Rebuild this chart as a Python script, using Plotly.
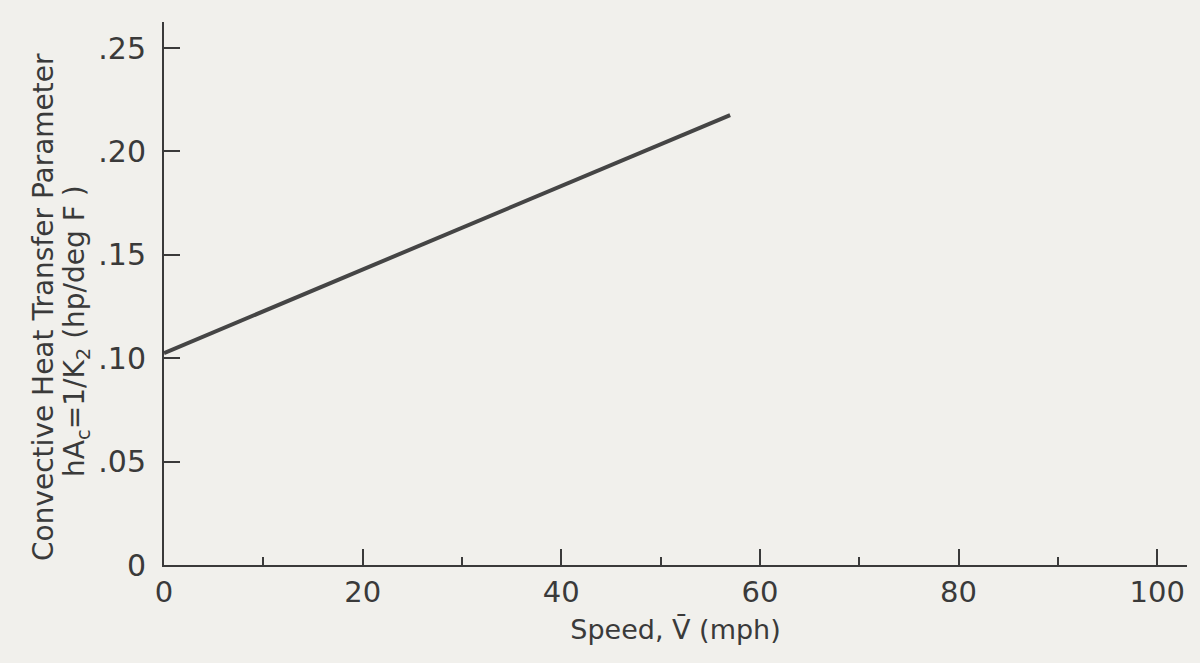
import plotly.graph_objects as go

speed = [0, 57]
param = [0.1025, 0.2176]

x_tickvals = [0, 20, 40, 60, 80, 100]
x_ticktext = ["0", "20", "40", "60", "80", "100"]
y_tickvals = [0, 0.05, 0.10, 0.15, 0.20, 0.25]
y_ticktext = ["0", ".05", ".10", ".15", ".20", ".25"]

y_title_1 = "Convective Heat Transfer Parameter"
y_title_2 = "hA<sub>c</sub>=1/K<sub>2</sub> (hp/deg F )"
x_title = "Speed, V\u0304 (mph)"

ink = "#3a3a3a"
bg = "#f1f0ec"
font = "'DejaVu Sans', sans-serif"

fig = go.Figure()
fig.add_trace(go.Scatter(x=speed, y=param, mode="lines",
                         line=dict(color="#454545", width=4), showlegend=False))

fig.update_layout(
    width=1200, height=663,
    paper_bgcolor=bg, plot_bgcolor=bg,
    margin=dict(l=164, r=13, t=22, b=98),
    font=dict(family=font, color=ink),
)
fig.update_xaxes(
    range=[0, 103], showgrid=False, zeroline=False,
    showline=True, linecolor=ink, linewidth=2,
    ticks="inside", ticklen=16, tickwidth=2, tickcolor=ink,
    tickvals=x_tickvals, ticktext=x_ticktext,
    tickfont=dict(size=29, color=ink, family=font),
    ticklabelstandoff=0,
    minor=dict(dtick=10, ticks="inside", ticklen=8, tickwidth=2, tickcolor=ink),
    title=dict(text=x_title, font=dict(size=27, color=ink, family=font), standoff=12),
)
fig.update_yaxes(
    range=[0, 0.2626], showgrid=False, zeroline=False,
    showline=True, linecolor=ink, linewidth=2,
    ticks="inside", ticklen=16, tickwidth=2, tickcolor=ink,
    tickvals=y_tickvals, ticktext=y_ticktext,
    tickfont=dict(size=30, color=ink, family=font),
    ticklabelstandoff=10,
)

fig.add_annotation(text=y_title_1, textangle=-90, xref="paper", yref="paper",
                   x=0, y=(565 - 307) / 543, xshift=-121, xanchor="center", yanchor="middle",
                   showarrow=False, font=dict(size=28, color=ink, family=font))
fig.add_annotation(text=y_title_2, textangle=-90, xref="paper", yref="paper",
                   x=0, y=(565 - 331) / 543, xshift=-88, xanchor="center", yanchor="middle",
                   showarrow=False, font=dict(size=28, color=ink, family=font))

fig.write_html("out.html")
